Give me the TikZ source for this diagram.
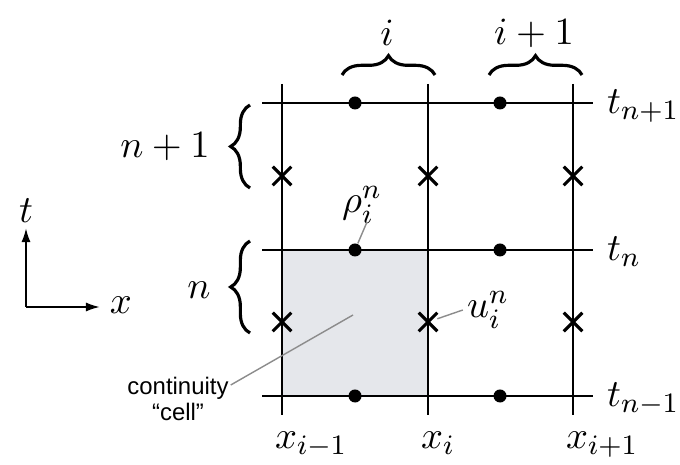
\documentclass[tikz,border=0pt]{standalone}
\usepackage{fontspec}
\setsansfont{Liberation Sans}
\usepackage{tikz}
\usetikzlibrary{shapes.misc,arrows.meta,positioning,decorations.pathreplacing,calc}

\definecolor{cellgray}{RGB}{229,231,235}

\tikzset{
    gridline/.style={black,line width=0.7pt},
    leader/.style={black!45,line width=0.4pt},
    dotpt/.style={circle,fill=black,inner sep=0pt,minimum size=3.7pt},
    crosspt/.style={cross out,draw=black,line width=0.9pt,inner sep=0pt,minimum size=4.4pt},
    bracesty/.style={decorate,decoration={brace,amplitude=5.5pt},line width=0.9pt},
    lbl/.style={font=\fontsize{11}{13}\selectfont,inner sep=1pt},
}

\begin{document}
\begin{tikzpicture}[x=0.01cm,y=-0.01cm]
    \useasboundingbox (0,0) rectangle (680,465);

        % continuity cell
        \fill[cellgray] (282,250) rectangle (428,396);

        % grid
        \foreach \y in {103,250,396}
            \draw[gridline] (262,\y) -- (593,\y);
        \foreach \x in {282,428,573}
            \draw[gridline] (\x,84) -- (\x,415);

        % density points and velocity points
        \foreach \r/\y in {p/103,n/250,m/396} {
            \node[dotpt] (rho-1-\r) at (355,\y) {};
            \node[dotpt] (rho-2-\r) at (500,\y) {};
        }
        \foreach \c/\x in {1/282,2/428,3/573} {
            \node[crosspt] (u-\c-a) at (\x,176) {};
            \node[crosspt] (u-\c-b) at (\x,322) {};
        }

        % time labels
        \node[lbl,anchor=base west] (tp) at (603,114) {$t_{n+1}$};
        \node[lbl,anchor=base west] (tn) at (603,261) {$t_n$};
        \node[lbl,anchor=base west] (tm) at (603,407) {$t_{n-1}$};

        % space labels
        \node[lbl,anchor=base west] (xm) at (271,449) {$x_{i-1}$};
        \node[lbl,anchor=base west] (xi) at (417,449) {$x_i$};
        \node[lbl,anchor=base west] (xp) at (562,449) {$x_{i+1}$};

        % braces
        \draw[bracesty] (342,75) -- (435,75) coordinate[midway] (bi);
        \draw[bracesty] (489,75) -- (582,75) coordinate[midway] (bip);
        \draw[bracesty] (250,188) -- (250,105) coordinate[midway] (bnp);
        \draw[bracesty] (250,333) -- (250,241) coordinate[midway] (bn);
        \node[lbl] (li) at (387,33) {$i$};
        \node[lbl] (lip) at (534,33) {$i+1$};
        \node[lbl] (lnp) at (165,147) {$n+1$};
        \node[lbl] (ln) at (199,290) {$n$};

        % axes
        \coordinate (axo) at (26,307);
        \coordinate (axt) at (26,228);
        \coordinate (axx) at (100,307);
        \draw[line width=0.6pt,-{Latex[length=4pt,width=2.6pt]}] (axo) -- (axt);
        \draw[line width=0.6pt,-{Latex[length=4pt,width=2.6pt]}] (axo) -- (axx);
        \node[lbl] (lt) at (26,211) {$t$};
        \node[lbl] (lx) at (121,305) {$x$};

        % annotations
        \node[lbl] (rholab) at (362,205) {$\rho_i^n$};
        \coordinate (rhotip) at (367,222);
        \draw[leader] (rho-1-n) -- (rhotip);
        \node[lbl] (ulab) at (488,310) {$u_i^n$};
        \draw[leader] (u-2-b) -- (ulab.west);
        \node[font=\sffamily\fontsize{6.8}{7.4}\selectfont,align=center,inner sep=1pt] (cell) at (178,399) {continuity\\``cell''};
        \coordinate (cellpt) at (353,315);
        \draw[leader] ($(cell.east)+(-2,-14)$) -- (cellpt);

\end{tikzpicture}
\end{document}
